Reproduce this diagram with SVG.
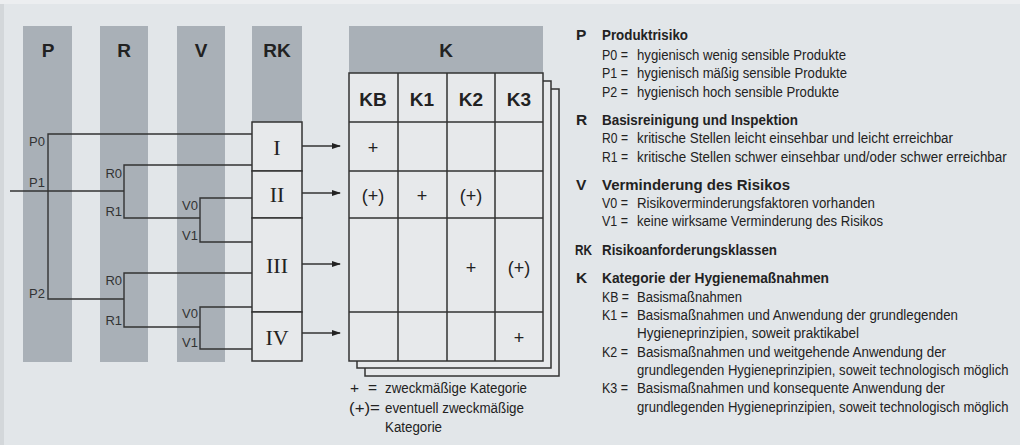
<svg xmlns="http://www.w3.org/2000/svg" width="1020" height="445" viewBox="0 0 1020 445">
<defs>
<style>
.bg{fill:#e2e6e9}
.col{fill:#a9b0b7}
.box{fill:#e7e9eb;stroke:#333;stroke-width:1.5}
.ln{fill:none;stroke:#333;stroke-width:1.4}
.hd{font-family:"Liberation Sans",Arial,sans-serif;font-weight:bold;font-size:19px;fill:#222;text-anchor:middle}
.lb{font-family:"Liberation Sans",Arial,sans-serif;font-size:13px;fill:#333;text-anchor:end}
.rn{font-family:"Liberation Serif","DejaVu Serif",serif;font-size:22px;fill:#222;text-anchor:middle}
.ce{font-family:"Liberation Sans",Arial,sans-serif;font-size:18px;fill:#222;text-anchor:middle}
.tx{font-family:"Liberation Sans",Arial,sans-serif;font-size:15.5px;fill:#222}
.tb{font-family:"Liberation Sans",Arial,sans-serif;font-size:15.5px;font-weight:bold;fill:#222}
</style>
<marker id="ah" markerWidth="9" markerHeight="6" refX="8" refY="3" orient="auto" markerUnits="userSpaceOnUse">
<path d="M0,0 L9,3 L0,6 Z" fill="#222"/>
</marker>
</defs>
<rect class="bg" x="0" y="0" width="1020" height="445"/>
<rect x="0" y="0" width="1020" height="4" fill="#eceef0"/>
<rect x="0" y="4" width="4" height="441" fill="#d3d7da"/>

<g id="col-P"><rect class="col" x="23" y="26" width="49" height="336"/><text class="hd" x="48" y="57">P</text></g>
<g id="col-R"><rect class="col" x="100" y="26" width="48" height="336"/><text class="hd" x="124" y="57">R</text></g>
<g id="col-V"><rect class="col" x="177" y="26" width="48" height="336"/><text class="hd" x="201" y="57">V</text></g>
<g id="col-RK"><rect class="col" x="252" y="26" width="50" height="96"/><text class="hd" x="277" y="57">RK</text></g>

<g id="connectors">
<polyline class="ln" points="252,134 48,134 48,299 124,299"/>
<line class="ln" x1="10" y1="191" x2="124" y2="191"/>
<polyline class="ln" points="252,165 124,165 124,218 200,218"/>
<polyline class="ln" points="252,198 200,198 200,242 252,242"/>
<polyline class="ln" points="252,273 124,273 124,327 200,327"/>
<polyline class="ln" points="252,307 200,307 200,349 252,349"/>
<line class="ln" x1="302" y1="146" x2="340" y2="146" marker-end="url(#ah)"/>
<line class="ln" x1="302" y1="193" x2="340" y2="193" marker-end="url(#ah)"/>
<line class="ln" x1="302" y1="264" x2="340" y2="264" marker-end="url(#ah)"/>
<line class="ln" x1="302" y1="333" x2="340" y2="333" marker-end="url(#ah)"/>
</g>

<g id="labels">
<text class="lb" x="45" y="146">P0</text>
<text class="lb" x="45" y="187">P1</text>
<text class="lb" x="45" y="298">P2</text>
<text class="lb" x="122" y="178">R0</text>
<text class="lb" x="122" y="216">R1</text>
<text class="lb" x="198" y="210">V0</text>
<text class="lb" x="198" y="240">V1</text>
<text class="lb" x="122" y="285">R0</text>
<text class="lb" x="122" y="325">R1</text>
<text class="lb" x="198" y="318">V0</text>
<text class="lb" x="198" y="347">V1</text>
</g>

<g id="rk-I"><rect class="box" x="252" y="122" width="50" height="49"/><text class="rn" x="277" y="155">I</text></g>
<g id="rk-II"><rect class="box" x="252" y="171" width="50" height="47"/><text class="rn" x="277" y="202">II</text></g>
<g id="rk-III"><rect class="box" x="252" y="218" width="50" height="94"/><text class="rn" x="277" y="273">III</text></g>
<g id="rk-IV"><rect class="box" x="252" y="312" width="50" height="49"/><text class="rn" x="277" y="345">IV</text></g>

<g id="K-table">
<rect class="box" x="365" y="89" width="194" height="287"/>
<rect class="box" x="357" y="81" width="194" height="287"/>
<rect class="col" x="349" y="26" width="194" height="47"/>
<text class="hd" x="446" y="57">K</text>
<rect class="box" x="349" y="73" width="194" height="288"/>
<path class="ln" d="M349,122H543M349,171H543M349,218H543M349,312H543M398,73V361M447,73V361M495,73V361" style="stroke-width:1.5"/>
<text class="hd" x="373" y="106">KB</text>
<text class="hd" x="422" y="106">K1</text>
<text class="hd" x="471" y="106">K2</text>
<text class="hd" x="519" y="106">K3</text>
<text class="ce" x="373" y="154">+</text>
<text class="ce" x="373" y="202">(+)</text>
<text class="ce" x="422" y="202">+</text>
<text class="ce" x="471" y="202">(+)</text>
<text class="ce" x="471" y="274">+</text>
<text class="ce" x="519" y="274">(+)</text>
<text class="ce" x="519" y="344">+</text>
</g>

<g id="legend-left">
<text class="tx" x="350" y="393">+</text>
<text class="tx" x="368" y="393">=</text>
<text class="tx" x="385" y="393" textLength="142" lengthAdjust="spacingAndGlyphs">zweckmäßige Kategorie</text>
<text class="tx" x="349" y="413" textLength="31" lengthAdjust="spacingAndGlyphs">(+)=</text>
<text class="tx" x="385" y="413" textLength="139" lengthAdjust="spacingAndGlyphs">eventuell zweckmäßige</text>
<text class="tx" x="385" y="432" textLength="57" lengthAdjust="spacingAndGlyphs">Kategorie</text>
</g>

<g id="legend-right">
<text class="tb" x="576" y="40">P</text>
<text class="tb" x="602" y="40" textLength="86" lengthAdjust="spacingAndGlyphs">Produktrisiko</text>
<text class="tx" x="602" y="60" textLength="26" lengthAdjust="spacingAndGlyphs">P0 =</text><text class="tx" x="637" y="60" textLength="209" lengthAdjust="spacingAndGlyphs">hygienisch wenig sensible Produkte</text>
<text class="tx" x="602" y="78" textLength="26" lengthAdjust="spacingAndGlyphs">P1 =</text><text class="tx" x="637" y="78" textLength="210" lengthAdjust="spacingAndGlyphs">hygienisch mäßig sensible Produkte</text>
<text class="tx" x="602" y="97" textLength="26" lengthAdjust="spacingAndGlyphs">P2 =</text><text class="tx" x="637" y="97" textLength="202" lengthAdjust="spacingAndGlyphs">hygienisch hoch sensible Produkte</text>
<text class="tb" x="576" y="125">R</text>
<text class="tb" x="602" y="125" textLength="196" lengthAdjust="spacingAndGlyphs">Basisreinigung und Inspektion</text>
<text class="tx" x="602" y="143" textLength="26" lengthAdjust="spacingAndGlyphs">R0 =</text><text class="tx" x="637" y="143" textLength="316" lengthAdjust="spacingAndGlyphs">kritische Stellen leicht einsehbar und leicht erreichbar</text>
<text class="tx" x="602" y="162" textLength="26" lengthAdjust="spacingAndGlyphs">R1 =</text><text class="tx" transform="translate(637,162) scale(0.87,1)" x="0" y="0" textLength="425" lengthAdjust="spacingAndGlyphs">kritische Stellen schwer einsehbar und/oder schwer erreichbar</text>
<text class="tb" x="576" y="190">V</text>
<text class="tb" x="602" y="190" textLength="188" lengthAdjust="spacingAndGlyphs">Verminderung des Risikos</text>
<text class="tx" x="602" y="208" textLength="26" lengthAdjust="spacingAndGlyphs">V0 =</text><text class="tx" x="637" y="208" textLength="238" lengthAdjust="spacingAndGlyphs">Risikoverminderungsfaktoren vorhanden</text>
<text class="tx" x="602" y="226" textLength="26" lengthAdjust="spacingAndGlyphs">V1 =</text><text class="tx" x="637" y="226" textLength="246" lengthAdjust="spacingAndGlyphs">keine wirksame Verminderung des Risikos</text>
<text class="tb" x="575" y="255" textLength="17" lengthAdjust="spacingAndGlyphs">RK</text>
<text class="tb" x="602" y="255" textLength="175" lengthAdjust="spacingAndGlyphs">Risikoanforderungsklassen</text>
<text class="tb" x="576" y="283">K</text>
<text class="tb" x="602" y="283" textLength="227" lengthAdjust="spacingAndGlyphs">Kategorie der Hygienemaßnahmen</text>
<text class="tx" x="602" y="302" textLength="27" lengthAdjust="spacingAndGlyphs">KB =</text><text class="tx" x="637" y="302" textLength="105" lengthAdjust="spacingAndGlyphs">Basismaßnahmen</text>
<text class="tx" x="602" y="320" textLength="26" lengthAdjust="spacingAndGlyphs">K1 =</text><text class="tx" x="637" y="320" textLength="321" lengthAdjust="spacingAndGlyphs">Basismaßnahmen und Anwendung der grundlegenden</text>
<text class="tx" x="637" y="338" textLength="222" lengthAdjust="spacingAndGlyphs">Hygieneprinzipien, soweit praktikabel</text>
<text class="tx" x="602" y="357" textLength="26" lengthAdjust="spacingAndGlyphs">K2 =</text><text class="tx" x="637" y="357" textLength="309" lengthAdjust="spacingAndGlyphs">Basismaßnahmen und weitgehende Anwendung der</text>
<text class="tx" transform="translate(637,375) scale(0.85,1)" x="0" y="0" textLength="437" lengthAdjust="spacingAndGlyphs">grundlegenden Hygieneprinzipien, soweit technologisch möglich</text>
<text class="tx" x="602" y="393" textLength="26" lengthAdjust="spacingAndGlyphs">K3 =</text><text class="tx" x="637" y="393" textLength="308" lengthAdjust="spacingAndGlyphs">Basismaßnahmen und konsequente Anwendung der</text>
<text class="tx" transform="translate(637,412) scale(0.85,1)" x="0" y="0" textLength="437" lengthAdjust="spacingAndGlyphs">grundlegenden Hygieneprinzipien, soweit technologisch möglich</text>
</g>
</svg>
